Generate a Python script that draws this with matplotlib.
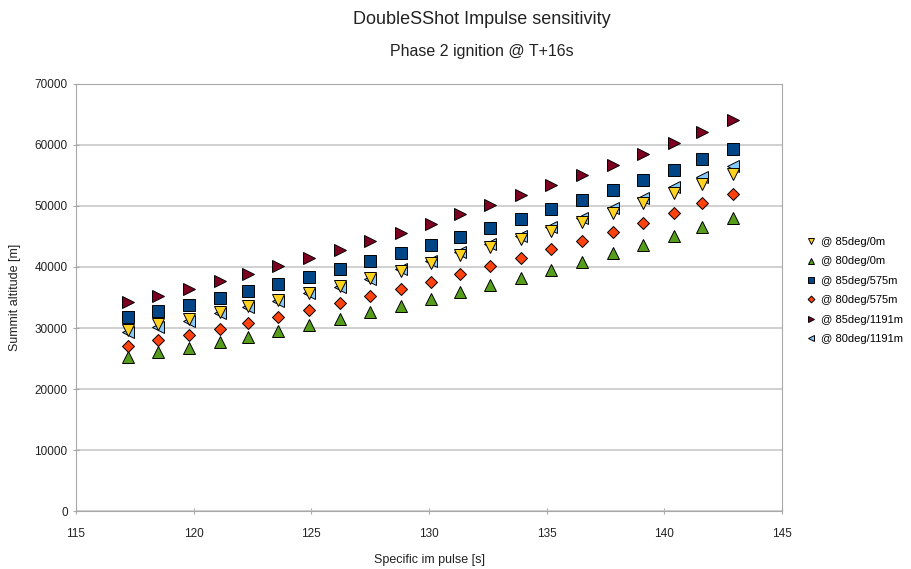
import matplotlib
matplotlib.use("Agg")
import matplotlib.pyplot as plt

plt.rcParams["font.family"] = ["Liberation Sans", "DejaVu Sans"]

# Specific impulse [s] (21 evaluated points)
isp = [117.2, 118.5, 119.8, 121.1, 122.3, 123.6, 124.9, 126.2, 127.5, 128.8,
       130.1, 131.3, 132.6, 133.9, 135.2, 136.5, 137.8, 139.1, 140.4, 141.6, 142.9]

# Summit altitude [m] per launch configuration
alt_85_0 = [29670, 30600, 31530, 32570, 33550, 34650, 35790, 36890, 38140, 39340,
            40600, 41910, 43220, 44540, 45960, 47380, 48910, 50440, 52080, 53660, 55300]
alt_80_0 = [25190, 26010, 26780, 27710, 28580, 29560, 30490, 31530, 32620, 33610,
            34750, 35850, 37100, 38250, 39560, 40770, 42240, 43660, 45080, 46560, 48090]
alt_85_575 = [31750, 32730, 33770, 34860, 36010, 37210, 38360, 39620, 40930, 42240,
              43550, 44970, 46390, 47870, 49450, 50930, 52570, 54210, 55900, 57650, 59400]
alt_80_575 = [27050, 27980, 28850, 29840, 30870, 31860, 32950, 34100, 35250, 36340,
              37600, 38850, 40160, 41530, 42900, 44260, 45740, 47210, 48800, 50550, 52020]
alt_85_1191 = [34210, 35300, 36450, 37650, 38910, 40160, 41480, 42790, 44210, 45630,
               47100, 48630, 50160, 51750, 53390, 55030, 56780, 58530, 60330, 62130, 64040]
alt_80_1191 = [29290, 30220, 31200, 32400, 33390, 34480, 35680, 36780, 38090, 39620,
               40980, 42400, 43720, 45140, 46560, 48090, 49730, 51310, 53060, 54810, 56560]

series = [
    ("@ 85deg/0m", alt_85_0, "v", "#ffd320", 5),
    ("@ 80deg/0m", alt_80_0, "^", "#579d1c", 4),
    ("@ 85deg/575m", alt_85_575, "s", "#004586", 4),
    ("@ 80deg/575m", alt_80_575, "D", "#ff420e", 4),
    ("@ 85deg/1191m", alt_85_1191, ">", "#7e0021", 4),
    ("@ 80deg/1191m", alt_80_1191, "<", "#83caff", 3),
]
sizes = {"v": 8.5, "^": 8.5, "s": 8.3, "D": 6.3, ">": 8.5, "<": 8.5}

fig = plt.figure(figsize=(9.12, 5.69), dpi=100)
ax = fig.add_axes([0.0833, 0.1019, 0.7742, 0.7505])

handles = []
for label, vals, m, c, z in series:
    h, = ax.plot(isp, vals, linestyle="none", marker=m, markersize=sizes[m],
                 markerfacecolor=c, markeredgecolor="black", markeredgewidth=0.7,
                 zorder=z, label=label)
    handles.append(h)

ax.set_xlim(115, 145)
ax.set_ylim(0, 70000)
ax.set_xticks(range(115, 146, 5))
ax.set_yticks(range(0, 70001, 10000))
ax.yaxis.grid(True, color="#c8c8c8", linewidth=1.2)
ax.set_axisbelow(True)
for s in ax.spines.values():
    s.set_color("#a8a8a8")
ax.tick_params(axis="both", colors="#a8a8a8", labelcolor="#222222",
               labelsize=8.5, length=4, direction="inout")
ax.tick_params(axis="x", pad=10)
ax.tick_params(axis="y", pad=4)

ax.set_xlabel("Specific im pulse [s]", fontsize=9, labelpad=10, color="#222222")
ax.set_ylabel("Summit altitude [m]", fontsize=9, labelpad=10, color="#222222")

fig.text(0.528, 0.966, "DoubleSShot Impulse sensitivity", ha="center", va="center",
         fontsize=13, color="#222222")
fig.text(0.528, 0.91, "Phase 2 ignition @ T+16s", ha="center", va="center",
         fontsize=11.5, color="#222222")

leg = fig.legend(handles=handles, loc="upper left", bbox_to_anchor=(0.873, 0.601),
                 frameon=False, fontsize=8, markerscale=0.55, handlelength=0.8,
                 handletextpad=0.5, labelspacing=0.85)

fig.savefig("out.png", dpi=100)
